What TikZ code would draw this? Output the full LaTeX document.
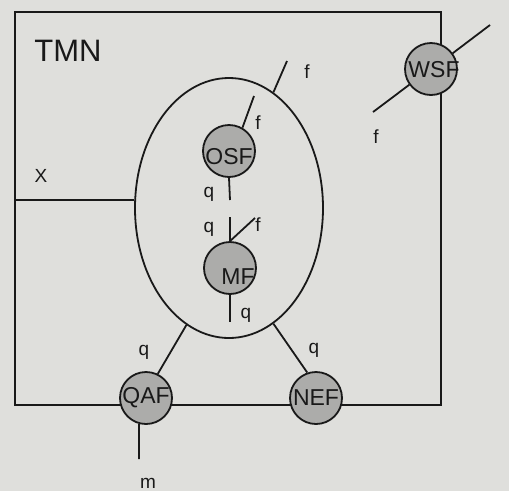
\documentclass[tikz,border=0pt]{standalone}
\usepackage{fontspec}
\setmainfont{Liberation Sans}
\usetikzlibrary{shapes.geometric}
\pgfdeclarelayer{bg}
\pgfdeclarelayer{lines}
\pgfsetlayers{bg,lines,main}
\definecolor{paper}{RGB}{223,223,220}
\definecolor{dotfill}{RGB}{172,172,170}
\definecolor{ink}{RGB}{25,25,25}
\tikzset{
  wire/.style={draw=ink, line width=1.8pt},
  func/.style={circle, draw=ink, line width=1.8pt, fill=dotfill, minimum size=52pt, inner sep=0pt},
  funclabel/.style={font=\fontsize{23}{23}\selectfont, text=ink, inner sep=0pt},
  lbl/.style={font=\fontsize{19}{19}\selectfont, text=ink, inner sep=0pt},
  title/.style={font=\fontsize{31}{31}\selectfont, text=ink, inner sep=0pt}
}
\begin{document}
\begin{tikzpicture}[x=1pt,y=-1pt]
\useasboundingbox (0,0) rectangle (509,491);
\begin{pgfonlayer}{bg}
  \fill[paper] (0,0) rectangle (509,491);
\end{pgfonlayer}
% TMN box
\node[draw=ink, line width=1.8pt, minimum width=426pt, minimum height=393pt, inner sep=0pt] (tmn) at (228,208.5) {};
\node[title] (tmnlbl) at (68,51) {TMN};
% ellipse
\node[ellipse, draw=ink, line width=1.8pt, minimum width=188pt, minimum height=260pt, inner sep=0pt] (ell) at (229,208) {};
% function blocks
\node[func] (osf) at (229,151) {};
\node[funclabel] (osflbl) at (229,157) {OSF};
\node[func] (mf) at (230,268) {};
\node[funclabel] (mflbl) at (238,277) {MF};
\node[func] (qaf) at (146,398) {};
\node[funclabel] (qaflbl) at (146,398) {QAF};
\node[func] (nef) at (316,398) {};
\node[funclabel] (neflbl) at (316,398) {NEF};
\node[func] (wsf) at (431,69) {};
\node[funclabel] (wsflbl) at (434,70) {WSF};
% free ends
\coordinate (xend) at (tmn.west |- ell.175);
\coordinate (ftop) at (287,61);
\coordinate (fosf) at (254,96);
\coordinate (q1end) at (230,200);
\coordinate (q2end) at (230,217);
\coordinate (fmf) at (255,218);
\coordinate (qmf) at (230,322);
\coordinate (mend) at (139,459);
\coordinate (w1) at (490,25);
\coordinate (w2) at (373,112);
\begin{pgfonlayer}{lines}
  \draw[wire] (ell.175) -- (xend);
  \draw[wire] (ell.69.5) -- (ftop);
  \draw[wire] (osf.60) -- (fosf);
  \draw[wire] (osf.south) -- (q1end);
  \draw[wire] (mf.north) -- (q2end);
  \draw[wire] (mf.north) -- (fmf);
  \draw[wire] (mf.south) -- (qmf);
  \draw[wire] (qaf.64) -- (ell.250);
  \draw[wire] (nef.109) -- (ell.291);
  \draw[wire] (qaf.255) -- (mend);
  \draw[wire] (wsf.36.7) -- (w1);
  \draw[wire] (wsf.216.7) -- (w2);
\end{pgfonlayer}
% labels
\node[lbl] (xl) at (41,176) {X};
\node[lbl] (f1) at (307,72) {f};
\node[lbl] (f2) at (258,123) {f};
\node[lbl] (q1) at (209,194) {q};
\node[lbl] (q2) at (209,229) {q};
\node[lbl] (f3) at (258,225) {f};
\node[lbl] (q3) at (246,315) {q};
\node[lbl] (q4) at (144,352) {q};
\node[lbl] (q5) at (314,350) {q};
\node[lbl] (ml) at (148,483) {m};
\node[lbl] (f4) at (376,137) {f};
\end{tikzpicture}
\end{document}
